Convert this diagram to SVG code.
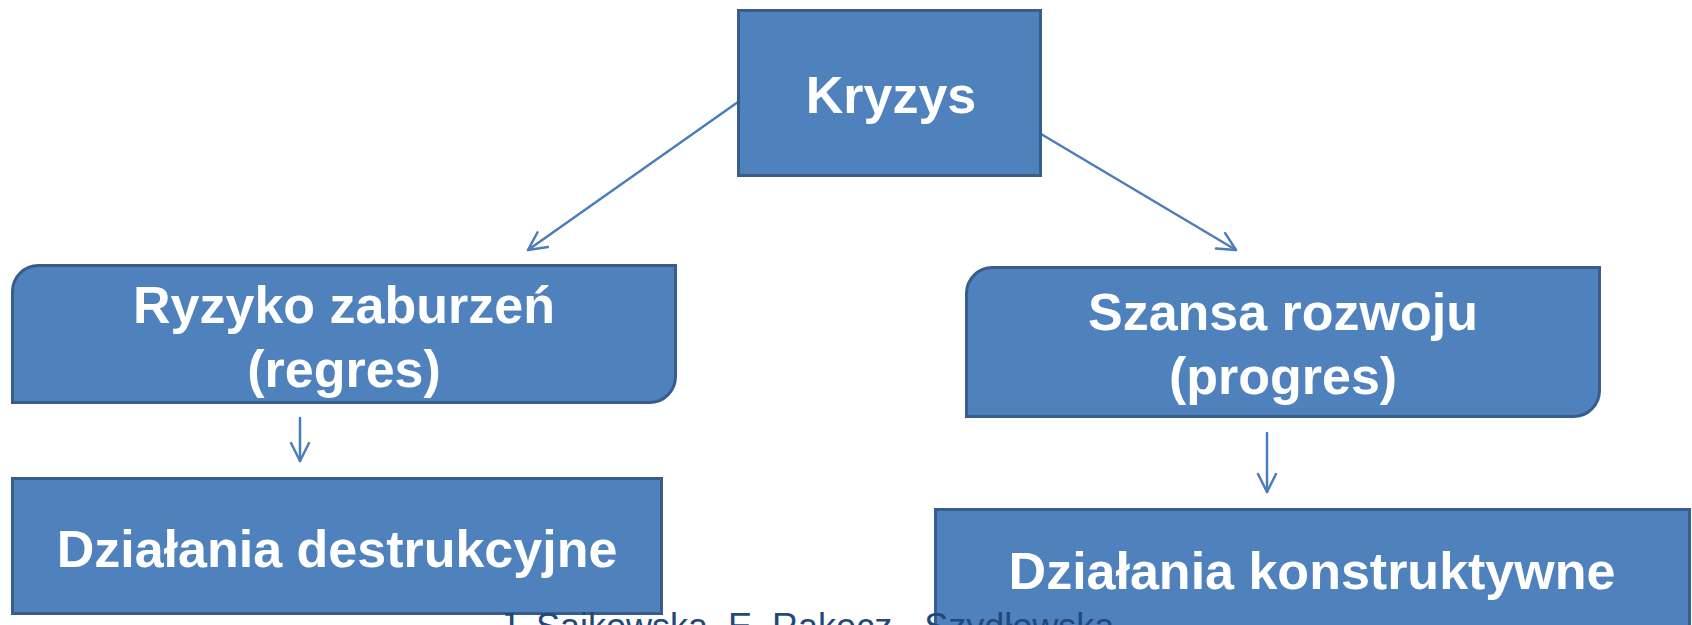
<svg xmlns="http://www.w3.org/2000/svg" width="1692" height="625" viewBox="0 0 1692 625">
<style>
.box{fill:#4f81bd;stroke:#385d8a;stroke-width:3}
.t{font-family:"Liberation Sans",Arial,sans-serif;font-weight:bold;font-size:52px;fill:#ffffff;text-anchor:middle}
.c{fill:none;stroke:#4a7ebb;stroke-width:2.5;stroke-linecap:round;stroke-linejoin:round}
.foot{font-family:"Liberation Sans",Arial,sans-serif;font-size:36px;fill:#1f497d}
</style>
<defs>
<marker id="arr" viewBox="-22 -12 24 24" refX="0" refY="0" markerWidth="24" markerHeight="24" markerUnits="userSpaceOnUse" orient="auto">
<path d="M-18,-9 L0,0 L-18,9" fill="none" stroke="#4a7ebb" stroke-width="2.5" stroke-linecap="round" stroke-linejoin="round"/>
</marker>
</defs>
<rect width="1692" height="625" fill="#ffffff"/>
<g id="connectors">
<line class="c" x1="738" y1="102" x2="528" y2="250" marker-end="url(#arr)"/>
<line class="c" x1="1041" y1="134" x2="1236" y2="250" marker-end="url(#arr)"/>
<line class="c" x1="300" y1="418" x2="300" y2="461" marker-end="url(#arr)"/>
<line class="c" x1="1267" y1="433" x2="1267" y2="492" marker-end="url(#arr)"/>
</g>
<g id="kryzys">
<rect class="box" x="738.5" y="10.5" width="302" height="165"/>
<text class="t" x="891" y="113">Kryzys</text>
</g>
<g id="ryzyko">
<path class="box" d="M12.5,291.5 A26,26 0 0 1 38.5,265.5 L675.5,265.5 L675.5,376.5 A26,26 0 0 1 649.5,402.5 L12.5,402.5 Z"/>
<text class="t" x="344" y="323">Ryzyko zaburzeń</text>
<text class="t" x="344" y="387">(regres)</text>
</g>
<g id="szansa">
<path class="box" d="M966.5,293.5 A26,26 0 0 1 992.5,267.5 L1599.5,267.5 L1599.5,390.5 A26,26 0 0 1 1573.5,416.5 L966.5,416.5 Z"/>
<text class="t" x="1283" y="330">Szansa rozwoju</text>
<text class="t" x="1283" y="394">(progres)</text>
</g>
<g id="destrukcyjne">
<rect class="box" x="12.5" y="478.5" width="649" height="135"/>
<text class="t" x="337" y="567">Działania destrukcyjne</text>
</g>
<g id="konstruktywne">
<rect class="box" x="935.5" y="509.5" width="754" height="130"/>
<text class="t" x="1312" y="589">Działania konstruktywne</text>
</g>
<g id="footer">
<text class="foot" x="498" y="639">J. Sajkowska, E. Rakocz - Szydłowska</text>
</g>
</svg>
